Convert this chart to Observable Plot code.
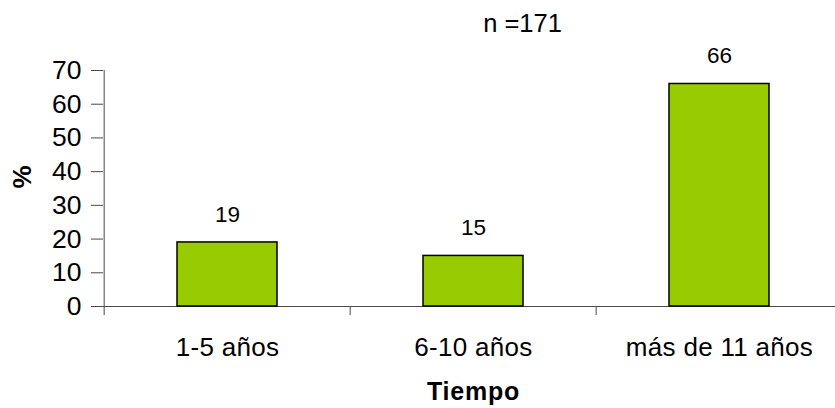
<!DOCTYPE html>
<html>
<head>
<meta charset="utf-8">
<script src="https://cdn.jsdelivr.net/npm/d3@7"></script>
<script src="https://cdn.jsdelivr.net/npm/@observablehq/plot@0.6"></script>
<style>
  html, body { margin: 0; padding: 0; background: #fff; overflow: hidden; }
  #chart { width: 835px; height: 408px; overflow: hidden; }
  #chart svg { max-width: none !important; font-family: "Liberation Sans", Arial, sans-serif; }
  .xtitle text { letter-spacing: 0.8px; }
  .xlabels text { letter-spacing: 0.3px; }
</style>
</head>
<body>
<div id="chart"></div>
<script>
// Tiempo (años) — porcentaje
const categories = ["1-5 años", "6-10 años", "más de 11 años"];
const values = [19, 15, 66];
const sampleLabel = "n =171";
const yTicks = [0, 10, 20, 30, 40, 50, 60, 70];
const xTitle = "Tiempo";
const yTitle = "%";

const data = categories.map((c, i) => ({category: c, value: values[i]}));

const width = 843, height = 408;
const marginLeft = 103, marginRight = 0, marginTop = 70, marginBottom = 102;
const paddingInner = 0.595;
const step = (width - marginLeft - marginRight) / categories.length;
const axisColor = "#4a4a4a";

const chart = Plot.plot({
  width, height, marginLeft, marginRight, marginTop, marginBottom,
  style: {fontFamily: "Liberation Sans, Arial, sans-serif", background: "#fff", color: "#000", maxWidth: "none"},
  x: {domain: categories, paddingInner, paddingOuter: paddingInner / 2, label: null},
  y: {domain: [0, 70], label: null},
  marks: [
    // x axis baseline
    Plot.ruleY([0], {stroke: axisColor, strokeWidth: 1}),
    // band separators (the first one also serves as the y axis line)
    Plot.ruleX(categories, {
      x: d => d, dx: -step / 2,
      y1: -2.7, y2: (d, i) => i === 0 ? 70 : 0,
      stroke: axisColor, strokeWidth: 1
    }),
    Plot.barY(data, {x: "category", y: "value", fill: "#99CC00", stroke: "#000", strokeWidth: 1.5}),
    Plot.text(data, {x: "category", y: "value", text: d => String(d.value), dy: -28, lineAnchor: "middle", fontSize: 22.5, fill: "#000"}),
    Plot.axisY({ticks: yTicks, tickSize: 12, tickPadding: 10, fontSize: 26.5, stroke: axisColor, label: null}),
    Plot.axisX({tickSize: 0, tickPadding: 31, fontSize: 26, label: null, className: "xlabels"}),
    Plot.text([sampleLabel], {frameAnchor: "top", dx: 49, dy: -47, lineAnchor: "middle", fontSize: 25.5, fill: "#000"}),
    Plot.text([xTitle], {frameAnchor: "bottom", dy: 85, lineAnchor: "middle", fontSize: 25, fontWeight: "bold", fill: "#000", className: "xtitle"}),
    Plot.text([yTitle], {frameAnchor: "left", dx: -81, rotate: -90, lineAnchor: "middle", fontSize: 26, fontWeight: "bold", fill: "#000"})
  ]
});

document.getElementById("chart").appendChild(chart);
</script>
</body>
</html>
